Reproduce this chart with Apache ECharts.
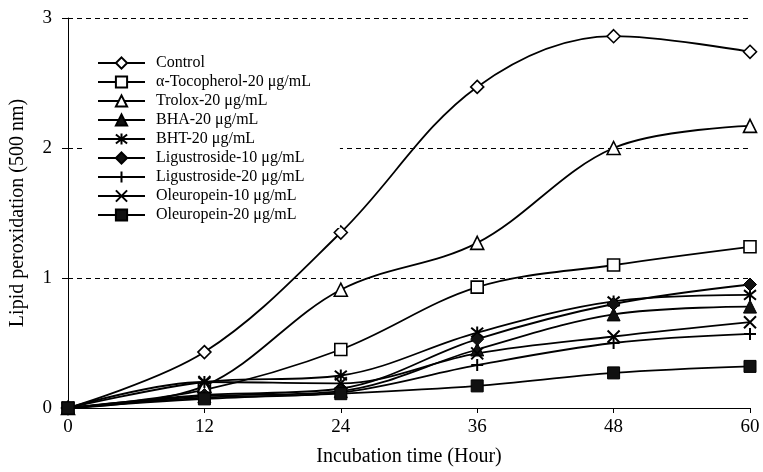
<!DOCTYPE html>
<html lang="en">
<head>
    <meta charset="UTF-8">
    <title>Lipid peroxidation</title>
    <script src="https://cdn.jsdelivr.net/npm/echarts@6/dist/echarts.min.js"></script>
</head>
<body style="margin:0">
<div id="main" style="width:763px;height:472px;"></div>
<script type="text/javascript">

// incubation time (hours)
var hours = [0, 12, 24, 36, 48, 60];

// lipid peroxidation absorbance
var control      = [0, 0.43, 1.35, 2.47, 2.86, 2.74];
var tocopherol20 = [0, 0.14, 0.45, 0.93, 1.10, 1.24];
var trolox20     = [0, 0.17, 0.91, 1.27, 2.00, 2.17];
var bha20        = [0, 0.09, 0.13, 0.45, 0.72, 0.78];
var bht20        = [0, 0.20, 0.25, 0.58, 0.82, 0.87];
var ligustro10   = [0, 0.10, 0.15, 0.53, 0.80, 0.95];
var ligustro20   = [0, 0.08, 0.12, 0.33, 0.50, 0.57];
var oleuro10     = [0, 0.20, 0.19, 0.42, 0.55, 0.66];
var oleuro20     = [0, 0.07, 0.11, 0.17, 0.27, 0.32];

var yTicks = [0, 1, 2, 3];

var FONT = 'Liberation Serif';

// stroked marker shapes
var CROSS = 'path://M0,0 L10,10 M10,0 L0,10';
var PLUS = 'path://M5,0 L5,10 M0,5 L10,5';
var STAR = 'path://M0,1 L10,9 M10,1 L0,9 M5,0 L5,10';

function pair(vals) {
    return hours.map(function (h, i) { return [h, vals[i]]; });
}

function mk(name, vals, symbol, hollow, size, stroked) {
    return {
        name: name,
        type: 'line',
        smooth: 0.35,
        data: pair(vals),
        symbol: symbol,
        symbolSize: size,
        showAllSymbol: true,
        lineStyle: {color: '#000', width: 1.8},
        itemStyle: stroked
            ? {color: '#000', borderColor: '#000', borderWidth: 2}
            : {color: hollow ? '#fff' : '#111', borderColor: '#000', borderWidth: hollow ? 1.6 : 1},
        emphasis: {disabled: true}
    };
}

var myChart = echarts.init(document.getElementById('main'));

myChart.setOption({
    animation: false,
    backgroundColor: '#fff',
    textStyle: {fontFamily: FONT, color: '#000'},
    grid: {left: 65, right: 13, top: 18, bottom: 64},
    legend: {
        orient: 'vertical',
        left: 82,
        top: 50,
        padding: [5, 29, 5, 15],
        backgroundColor: '#fff',
        itemWidth: 47,
        itemHeight: 14,
        itemGap: 3,
        textStyle: {fontFamily: FONT, fontSize: 16, color: '#000', padding: [0, 0, 0, 6]}
    },
    xAxis: {
        type: 'value',
        min: 0,
        max: 60,
        interval: 12,
        name: 'Incubation time (Hour)',
        nameLocation: 'middle',
        nameGap: 39,
        nameTextStyle: {fontFamily: FONT, fontSize: 20, color: '#000'},
        axisLine: {lineStyle: {color: '#000', width: 1}},
        axisTick: {show: true, length: 5, lineStyle: {color: '#000'}},
        axisLabel: {fontFamily: FONT, fontSize: 19, color: '#000', margin: 10},
        splitLine: {show: false}
    },
    yAxis: {
        type: 'value',
        min: yTicks[0],
        max: yTicks[yTicks.length - 1],
        interval: 1,
        name: 'Lipid peroxidation (500 nm)',
        nameLocation: 'middle',
        nameGap: 40,
        nameTextStyle: {fontFamily: FONT, fontSize: 20, color: '#000'},
        axisLine: {show: true, lineStyle: {color: '#000', width: 1}},
        axisTick: {show: true, length: 6, lineStyle: {color: '#000'}},
        axisLabel: {fontFamily: FONT, fontSize: 19, color: '#000', margin: 16},
        splitLine: {show: true, lineStyle: {color: '#000', type: [5, 4], width: 1}}
    },
    series: [
        mk('Control', control, 'diamond', true, 13),
        mk('α-Tocopherol-20 μg/mL', tocopherol20, 'rect', true, 12),
        mk('Trolox-20 μg/mL', trolox20, 'triangle', true, 13),
        mk('BHA-20 μg/mL', bha20, 'triangle', false, 13),
        mk('BHT-20 μg/mL', bht20, STAR, false, 12, true),
        mk('Ligustroside-10 μg/mL', ligustro10, 'diamond', false, 13),
        mk('Ligustroside-20 μg/mL', ligustro20, PLUS, false, 12, true),
        mk('Oleuropein-10 μg/mL', oleuro10, CROSS, false, 12, true),
        mk('Oleuropein-20 μg/mL', oleuro20, 'rect', false, 12)
    ]
});

</script>
</body>
</html>
